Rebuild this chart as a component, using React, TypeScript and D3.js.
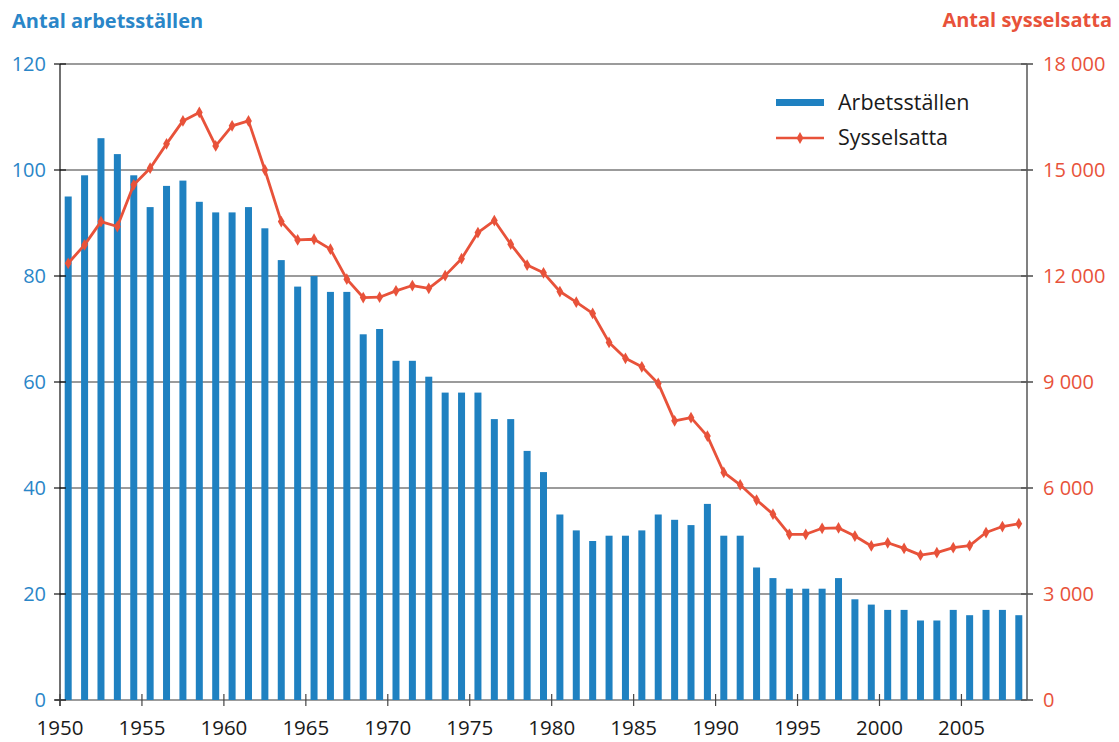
import React, { useEffect, useRef } from "react";
import * as d3 from "d3";

// Årtal 1950–2008
const years: number[] = d3.range(1950, 2009);

// Antal arbetsställen (vänster axel)
const arbetsstallen: number[] = [
  95, 99, 106, 103, 99, 93, 97, 98, 94, 92,
  92, 93, 89, 83, 78, 80, 77, 77, 69, 70,
  64, 64, 61, 58, 58, 58, 53, 53, 47, 43,
  35, 32, 30, 31, 31, 32, 35, 34, 33, 37,
  31, 31, 25, 23, 21, 21, 21, 23, 19, 18,
  17, 17, 15, 15, 17, 16, 17, 17, 16,
];

// Antal sysselsatta (höger axel)
const sysselsatta: number[] = [
  12360, 12880, 13540, 13400, 14580, 15050, 15740, 16390, 16630, 15680,
  16250, 16390, 15000, 13540, 13020, 13040, 12760, 11910, 11390, 11400,
  11580, 11730, 11650, 12010, 12490, 13230, 13570, 12900, 12310, 12090,
  11560, 11260, 10940, 10120, 9670, 9430, 8960, 7900, 7990, 7470,
  6440, 6090, 5660, 5260, 4690, 4690, 4860, 4870, 4640, 4360,
  4450, 4290, 4100, 4170, 4310, 4370, 4740, 4910, 4990,
];

const leftTicks: number[] = [0, 20, 40, 60, 80, 100, 120];
const rightTicks: number[] = [0, 3000, 6000, 9000, 12000, 15000, 18000];
const xTicks: number[] = [1950, 1955, 1960, 1965, 1970, 1975, 1980, 1985, 1990, 1995, 2000, 2005];

const BLUE = "#1f81c1";
const BLUE_TEXT = "#2a86c8";
const RED = "#e8523a";
const FONT = "'Open Sans', sans-serif";

const App: React.FC = () => {
  const svgRef = useRef<SVGSVGElement>(null);
  const width = 1119;
  const height = 742;

  useEffect(() => {
    if (!svgRef.current) return;
    const svg = d3.select(svgRef.current);
    svg.selectAll("*").remove();

    const marginLeft = 60;
    const marginRight = 92;
    const marginTop = 64;
    const marginBottom = 42;

    const x = d3
      .scaleLinear()
      .domain([1950, 2009])
      .range([marginLeft, width - marginRight]);
    const yL = d3
      .scaleLinear()
      .domain([0, 120])
      .range([height - marginBottom, marginTop]);
    const yR = d3
      .scaleLinear()
      .domain([0, 18000])
      .range([height - marginBottom, marginTop]);

    const fmt = (v: number) => d3.format(",")(v).replace(/,/g, " ");

    // Gridlines
    svg
      .append("g")
      .selectAll("line")
      .data(leftTicks)
      .join("line")
      .attr("x1", (d) => (d === 0 ? marginLeft - 5 : marginLeft))
      .attr("x2", width - marginRight)
      .attr("y1", (d) => yL(d))
      .attr("y2", (d) => yL(d))
      .attr("stroke", "#7a7a7a")
      .attr("stroke-width", 1.6);

    // Bars
    const barW = 7;
    svg
      .append("g")
      .selectAll("rect")
      .data(arbetsstallen)
      .join("rect")
      .attr("x", (_, i) => x(years[i] + 0.5) - barW / 2)
      .attr("width", barW)
      .attr("y", (d) => yL(d))
      .attr("height", (d) => yL(0) - yL(d))
      .attr("fill", BLUE);

    // Left axis
    const left = svg.append("g");
    left
      .append("line")
      .attr("x1", marginLeft)
      .attr("x2", marginLeft)
      .attr("y1", marginTop)
      .attr("y2", yL(0) + 6)
      .attr("stroke", "#111")
      .attr("stroke-width", 1.2);
    left
      .selectAll("line.tick")
      .data(leftTicks)
      .join("line")
      .attr("class", "tick")
      .attr("x1", marginLeft - 6)
      .attr("x2", marginLeft + 6)
      .attr("y1", (d) => yL(d))
      .attr("y2", (d) => yL(d))
      .attr("stroke", "#111")
      .attr("stroke-width", 1.2);
    left
      .selectAll("text")
      .data(leftTicks)
      .join("text")
      .attr("x", marginLeft - 14)
      .attr("y", (d) => yL(d))
      .attr("dy", "0.36em")
      .attr("text-anchor", "end")
      .attr("fill", BLUE_TEXT)
      .attr("font-family", FONT)
      .attr("font-size", 20)
      .text((d) => d);

    // Right axis
    const rx = width - marginRight;
    const right = svg.append("g");
    right
      .append("line")
      .attr("x1", rx)
      .attr("x2", rx)
      .attr("y1", marginTop)
      .attr("y2", yR(0))
      .attr("stroke", "#808080")
      .attr("stroke-width", 2);
    right
      .selectAll("line.tick")
      .data(rightTicks)
      .join("line")
      .attr("class", "tick")
      .attr("x1", rx - 6)
      .attr("x2", rx + 6)
      .attr("y1", (d) => yR(d))
      .attr("y2", (d) => yR(d))
      .attr("stroke", "#555")
      .attr("stroke-width", 1.6);
    right
      .selectAll("text")
      .data(rightTicks)
      .join("text")
      .attr("x", rx + 16)
      .attr("y", (d) => yR(d))
      .attr("dy", "0.36em")
      .attr("fill", RED)
      .attr("font-family", FONT)
      .attr("font-size", 20)
      .text((d) => fmt(d));

    // X axis ticks and labels
    const bottom = svg.append("g");
    bottom
      .selectAll("line")
      .data(xTicks)
      .join("line")
      .attr("x1", (d) => x(d))
      .attr("x2", (d) => x(d))
      .attr("y1", yL(0) - 6)
      .attr("y2", yL(0) + 6)
      .attr("stroke", "#444")
      .attr("stroke-width", 1.2);
    bottom
      .selectAll("text")
      .data(xTicks)
      .join("text")
      .attr("x", (d) => x(d))
      .attr("y", 735)
      .attr("text-anchor", "middle")
      .attr("fill", "#1a1a1a")
      .attr("font-family", FONT)
      .attr("font-size", 20.5)
      .text((d) => d);

    // Sysselsatta line
    const pts = sysselsatta.map((v, i) => ({ year: years[i] + 0.5, value: v }));
    const line = d3
      .line<{ year: number; value: number }>()
      .x((d) => x(d.year))
      .y((d) => yR(d.value));
    svg
      .append("path")
      .datum(pts)
      .attr("d", line)
      .attr("fill", "none")
      .attr("stroke", RED)
      .attr("stroke-width", 2.8)
      .attr("stroke-linejoin", "round");
    const diamond = d3.symbol().type(d3.symbolDiamond).size(40);
    svg
      .append("g")
      .selectAll("path")
      .data(pts)
      .join("path")
      .attr("transform", (d) => `translate(${x(d.year)},${yR(d.value)})`)
      .attr("d", diamond)
      .attr("fill", RED);

    // Axis titles
    svg
      .append("text")
      .attr("x", 12)
      .attr("y", 28)
      .attr("fill", BLUE_TEXT)
      .attr("font-family", FONT)
      .attr("font-weight", 700)
      .attr("font-size", 20)
      .text("Antal arbetsställen");
    svg
      .append("text")
      .attr("x", 1112)
      .attr("y", 27)
      .attr("text-anchor", "end")
      .attr("fill", RED)
      .attr("font-family", FONT)
      .attr("font-weight", 700)
      .attr("font-size", 20)
      .text("Antal sysselsatta");

    // Legend
    const lg = svg.append("g").attr("transform", "translate(776,0)");
    lg.append("rect")
      .attr("x", 0)
      .attr("y", 99)
      .attr("width", 48)
      .attr("height", 7)
      .attr("fill", BLUE);
    lg.append("text")
      .attr("x", 62)
      .attr("y", 110)
      .attr("fill", "#1a1a1a")
      .attr("font-family", FONT)
      .attr("font-size", 21.5)
      .text("Arbetsställen");
    lg.append("line")
      .attr("x1", 0)
      .attr("x2", 48)
      .attr("y1", 138)
      .attr("y2", 138)
      .attr("stroke", RED)
      .attr("stroke-width", 2.5);
    lg.append("path")
      .attr("transform", "translate(24,138)")
      .attr("d", diamond)
      .attr("fill", RED);
    lg.append("text")
      .attr("x", 62)
      .attr("y", 145)
      .attr("fill", "#1a1a1a")
      .attr("font-family", FONT)
      .attr("font-size", 21.5)
      .text("Sysselsatta");
  }, []);

  return (
    <svg
      ref={svgRef}
      width={width}
      height={height}
      style={{ position: "absolute", left: 0, top: 0, background: "#fff" }}
    />
  );
};

export default App;
